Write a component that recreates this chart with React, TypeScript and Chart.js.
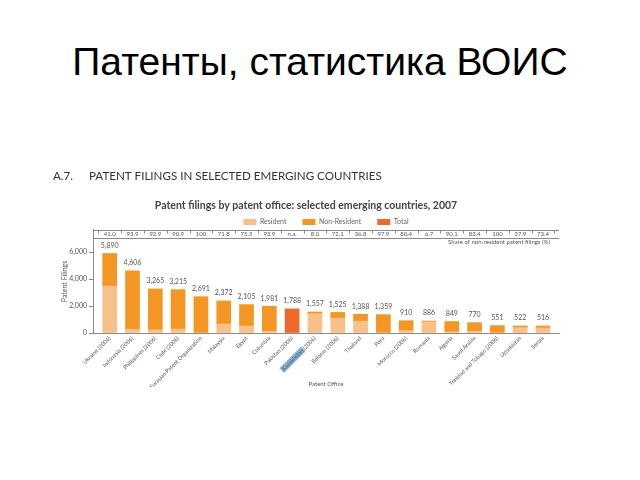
import React, { useEffect, useRef } from "react";
import { Chart, registerables } from "chart.js";

Chart.register(...registerables);

const slideTitle = "Патенты, статистика ВОИС";
const heading = "A.7.\u2003\u2002\u2009PATENT FILINGS IN SELECTED EMERGING COUNTRIES";
const subtitle = "Patent filings by patent office: selected emerging countries, 2007";
const yAxisTitle = "Patent Filings";
const xAxisTitle = "Patent Office";
const shareCaption = "Share of non-resident patent filings (%)";

const categories = [
  "Ukraine (2006)",
  "Indonesia (2006)",
  "Philippines (2006)",
  "Chile (2006)",
  "Eurasian Patent Organization",
  "Malaysia",
  "Egypt",
  "Colombia",
  "Pakistan (2006)",
  "Kazakhstan (2006)",
  "Belarus (2006)",
  "Thailand",
  "Peru",
  "Morocco (2006)",
  "Romania",
  "Algeria",
  "Saudi Arabia",
  "Trinidad and Tobago (2006)",
  "Uzbekistan",
  "Serbia",
];

const totals = [5890, 4606, 3265, 3215, 2691, 2372, 2105, 1981, 1788, 1557, 1525, 1388, 1359, 910, 886, 849, 770, 551, 522, 516];
const resident = [3475, 281, 232, 293, 0, 669, 516, 121, null, 1432, 1100, 877, 29, 178, 827, 84, 128, 0, 400, 380];
const nonResident = [2415, 4325, 3033, 2922, 2691, 1703, 1589, 1860, null, 125, 425, 511, 1330, 732, 59, 765, 642, 551, 122, 136];
const totalOnly = [null, null, null, null, null, null, null, null, 1788, null, null, null, null, null, null, null, null, null, null, null];
const shares = ["41.0", "93.9", "92.9", "90.9", "100", "71.8", "75.5", "93.9", "n.a.", "8.0", "72.1", "36.8", "97.9", "80.4", "6.7", "90.1", "83.4", "100", "37.9", "73.4"];
const yTicks = [0, 2000, 4000, 6000];
const highlightedLabel = "Kazakhstan";

const COLORS = {
  resident: "#F9C08A",
  nonResident: "#F39623",
  total: "#EE6A2B",
  text: "#555555",
  axis: "#8a8a8a",
};

const CHART_FONT = "Lato, 'Open Sans', sans-serif";
const X_LABEL_SIZE = 5.6;

const fmt = (v: number) => v.toLocaleString("en-US");

const shiftXPlugin = {
  id: "shiftX",
  afterLayout(chart: any) {
    const xs = chart.scales.x;
    xs._startPixel = xs.left + 5.3;
    xs._endPixel = xs.right - 4.6;
    xs._length = xs._endPixel - xs._startPixel;
  },
};

const highlightPlugin = {
  id: "highlight",
  beforeDraw(chart: any) {
    const xs = chart.scales.x;
    const idx = categories.findIndex((c) => c.startsWith(highlightedLabel));
    if (idx < 0) return;
    const ctx = chart.ctx;
    const size = X_LABEL_SIZE;
    const lh = size * 1.2;
    const rot = -Math.PI / 4;
    const px = xs.getPixelForTick(idx) + (lh / 2) * Math.sin(rot);
    const py = xs.top + 2;
    ctx.save();
    ctx.font = `${size}px ${CHART_FONT}`;
    const full = ctx.measureText(categories[idx]).width;
    const part = ctx.measureText(highlightedLabel).width;
    ctx.translate(px, py);
    ctx.rotate(rot);
    ctx.fillStyle = "#86b4da";
    ctx.fillRect(-full - 1.5, 0, part + 2.5, lh);
    ctx.restore();
  },
};

const annotatePlugin = {
  id: "annotate",
  afterDraw(chart: any) {
    const { ctx, chartArea } = chart;
    const xs = chart.scales.x;
    const ys = chart.scales.y;
    ctx.save();
    // bar totals
    ctx.font = `7px ${CHART_FONT}`;
    ctx.fillStyle = COLORS.text;
    ctx.textAlign = "center";
    ctx.textBaseline = "middle";
    totals.forEach((v, i) => {
      ctx.fillText(fmt(v), xs.getPixelForValue(i), ys.getPixelForValue(v) - 8);
    });
    // share row
    const top = chartArea.top + 0.5;
    const bottom = chartArea.top + 8.5;
    ctx.strokeStyle = COLORS.axis;
    ctx.lineWidth = 1;
    ctx.beginPath();
    ctx.moveTo(chartArea.left, top);
    ctx.lineTo(chartArea.right, top);
    ctx.moveTo(chartArea.left, bottom);
    ctx.lineTo(chartArea.right, bottom);
    const half = (xs.getPixelForValue(1) - xs.getPixelForValue(0)) / 2;
    for (let i = 0; i <= categories.length; i++) {
      const bx = Math.round(xs.getPixelForValue(i) - half) + 0.5;
      ctx.moveTo(bx, top);
      ctx.lineTo(bx, top + 3);
    }
    ctx.stroke();
    ctx.font = `6px ${CHART_FONT}`;
    ctx.fillStyle = COLORS.text;
    shares.forEach((s, i) => {
      ctx.fillText(s, xs.getPixelForValue(i), chartArea.top + 4.5);
    });
    ctx.textAlign = "right";
    ctx.fillText(shareCaption, chartArea.right - 9, chartArea.top + 12.5);
    ctx.restore();
  },
};

export default function App() {
  const canvasRef = useRef<HTMLCanvasElement | null>(null);

  useEffect(() => {
    const canvas = canvasRef.current;
    if (!canvas) return;
    const chart = new Chart(canvas, {
      type: "bar",
      data: {
        labels: categories,
        datasets: [
          { label: "Resident", data: resident, backgroundColor: COLORS.resident, stack: "s", barThickness: 14 },
          { label: "Non-Resident", data: nonResident, backgroundColor: COLORS.nonResident, stack: "s", barThickness: 14 },
          { label: "Total", data: totalOnly, backgroundColor: COLORS.total, stack: "s", barThickness: 14 },
        ],
      } as any,
      options: {
        responsive: false,
        maintainAspectRatio: false,
        animation: false,
        layout: { padding: { top: 169.04, left: 53, right: 81, bottom: 0 } },
        plugins: {
          title: {
            display: true,
            text: heading,
            align: "start",
            color: "#333",
            font: { family: CHART_FONT, size: 11.6, weight: "normal" },
            padding: { top: 0, bottom: 0 },
          },
          subtitle: {
            display: true,
            text: subtitle,
            align: "center",
            color: "#444",
            font: { family: CHART_FONT, size: 10.5, weight: "bold" },
            padding: { top: 16.74, bottom: -9.8 },
          },
          legend: {
            display: true,
            position: "top",
            fullSize: false,
            maxHeight: 27.5,
            labels: {
              boxWidth: 13,
              boxHeight: 6,
              padding: 16,
              color: "#666",
              font: { family: CHART_FONT, size: 7 },
            },
          },
          tooltip: { enabled: false },
        },
        scales: {
          x: {
            type: "category",
            stacked: true,
            offset: true,
            grid: { display: false, drawTicks: false },
            border: { display: true, color: COLORS.axis, width: 1 },
            ticks: {
              autoSkip: false,
              minRotation: 45,
              maxRotation: 45,
              padding: 2,
              color: COLORS.text,
              font: { family: CHART_FONT, size: X_LABEL_SIZE },
            },
            title: {
              display: true,
              text: xAxisTitle,
              color: COLORS.text,
              font: { family: CHART_FONT, size: 6 },
              padding: { top: 0, bottom: -1 },
            },
            afterFit: (s: any) => {
              s.height = 54;
            },
          },
          y: {
            type: "linear",
            stacked: true,
            min: 0,
            max: 7630,
            grid: { display: true, drawOnChartArea: false, drawTicks: true, tickLength: 4, color: COLORS.axis },
            border: { display: true, color: COLORS.axis, width: 1 },
            ticks: {
              includeBounds: false,
              padding: 2,
              color: COLORS.text,
              font: { family: CHART_FONT, size: 7 },
              callback: (v: any) => fmt(Number(v)),
            },
            afterBuildTicks: (s: any) => {
              s.ticks = yTicks.map((v) => ({ value: v }));
            },
            title: {
              display: true,
              text: yAxisTitle,
              color: COLORS.text,
              font: { family: CHART_FONT, size: 7 },
              padding: { top: 8, bottom: 0 },
            },
            afterFit: (s: any) => {
              s.width = 40;
            },
          },
        },
      } as any,
      plugins: [shiftXPlugin, highlightPlugin, annotatePlugin],
    });
    return () => chart.destroy();
  }, []);

  return (
    <div style={{ position: "fixed", left: 0, top: 0, width: 640, height: 480, background: "#fff", overflow: "hidden" }}>
      <div
        style={{
          position: "absolute",
          left: 0,
          top: 42,
          width: 640,
          textAlign: "center",
          fontFamily: "'Liberation Sans', Arial, sans-serif",
          fontSize: 39,
          lineHeight: "39px",
          color: "#000",
        }}
      >
        {slideTitle}
      </div>
      <canvas
        ref={canvasRef}
        width={640}
        height={387}
        style={{ position: "absolute", left: 0, top: 0, width: 640, height: 387 }}
      />
    </div>
  );
}
